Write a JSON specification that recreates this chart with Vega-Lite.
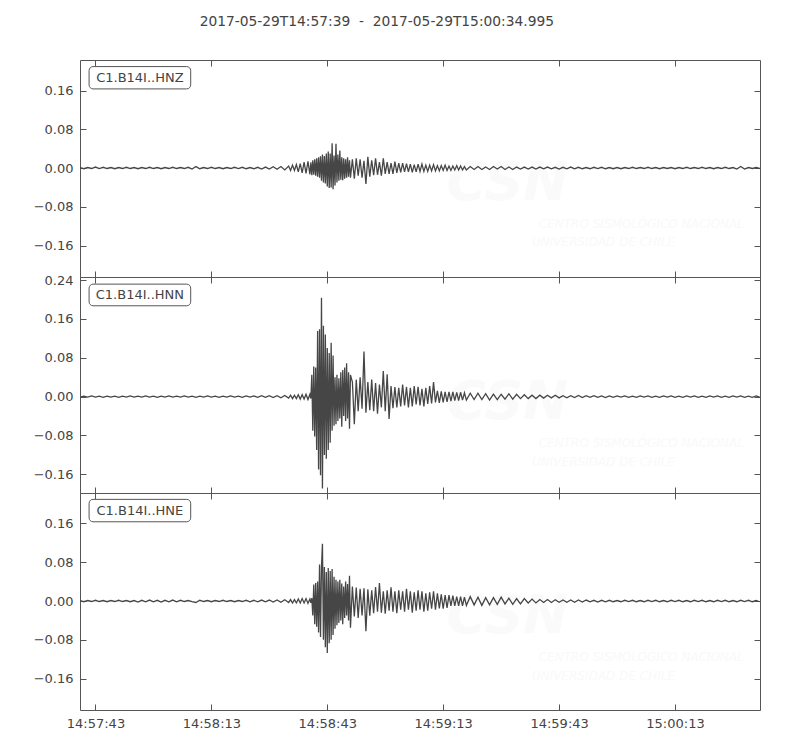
{
"$schema": "https://vega.github.io/schema/vega-lite/v6.json",
"padding": {"left": 32, "top": 15, "right": 5, "bottom": 5},
"background": "white",
"bounds": "flush",
"title": {"text": "2017-05-29T14:57:39\u00a0\u00a0-\u00a0\u00a02017-05-29T15:00:34.995", "font": "DejaVu Sans", "fontSize": 13.8, "fontWeight": "normal", "color": "#444444", "anchor": "middle", "dx": -20, "offset": 30},
"config": {
  "view": {"stroke": "#555555", "strokeWidth": 1},
  "font": "DejaVu Sans",
  "axis": {"domain": false, "grid": false, "tickColor": "#555555", "tickSize": -6, "labelColor": "#444444", "labelFont": "DejaVu Sans", "labelFontSize": 13}
},
"datasets": {
"w": [
{"t":0,"z":0.001,"n":-0.001,"e":0.001},
{"t":1,"z":-0.0015,"n":0.001,"e":-0.0015},
{"t":2,"z":0.001,"n":-0.001,"e":0.001},
{"t":3,"z":-0.001,"n":0.0015,"e":-0.001},
{"t":4,"z":0.002,"n":-0.001,"e":0.0015},
{"t":5,"z":-0.001,"n":0.001,"e":-0.001},
{"t":6,"z":0.0015,"n":-0.0015,"e":0.001},
{"t":7,"z":-0.001,"n":0.001,"e":-0.0015},
{"t":8,"z":0.001,"n":-0.001,"e":0.001},
{"t":9,"z":-0.0015,"n":0.001,"e":-0.001},
{"t":10,"z":0.001,"n":-0.0015,"e":0.0015},
{"t":11,"z":-0.001,"n":0.001,"e":-0.001},
{"t":12,"z":0.0015,"n":-0.001,"e":0.001},
{"t":13,"z":-0.001,"n":0.0015,"e":-0.0015},
{"t":14,"z":0.001,"n":-0.001,"e":0.001},
{"t":15,"z":-0.0015,"n":0.001,"e":-0.002},
{"t":16,"z":0.001,"n":-0.001,"e":0.0015},
{"t":17,"z":-0.001,"n":0.0015,"e":-0.0015},
{"t":18,"z":0.0015,"n":-0.001,"e":0.002},
{"t":19,"z":-0.001,"n":0.001,"e":-0.0015},
{"t":20,"z":0.001,"n":-0.0015,"e":0.0015},
{"t":21,"z":-0.0015,"n":0.001,"e":-0.002},
{"t":22,"z":0.001,"n":-0.001,"e":0.0015},
{"t":23,"z":-0.001,"n":0.0015,"e":-0.0015},
{"t":24,"z":0.0015,"n":-0.001,"e":0.002},
{"t":25,"z":-0.001,"n":0.001,"e":-0.0015},
{"t":26,"z":0.001,"n":-0.001,"e":0.0015},
{"t":27,"z":-0.001,"n":0.0015,"e":-0.001},
{"t":28,"z":0.0015,"n":-0.001,"e":0.001},
{"t":29,"z":-0.002,"n":0.001,"e":-0.0015},
{"t":30,"z":0.003,"n":-0.0015,"e":-0.003},
{"t":31,"z":-0.0015,"n":0.001,"e":0.0015},
{"t":32,"z":0.001,"n":-0.001,"e":-0.001},
{"t":33,"z":-0.001,"n":0.0015,"e":0.001},
{"t":34,"z":0.0015,"n":-0.001,"e":-0.0015},
{"t":35,"z":-0.001,"n":0.001,"e":0.001},
{"t":36,"z":0.001,"n":-0.0015,"e":-0.001},
{"t":37,"z":-0.0015,"n":0.001,"e":0.0015},
{"t":38,"z":0.001,"n":-0.001,"e":-0.001},
{"t":39,"z":-0.001,"n":0.0015,"e":0.001},
{"t":40,"z":0.0015,"n":-0.001,"e":-0.0015},
{"t":41,"z":-0.001,"n":0.001,"e":0.001},
{"t":42,"z":0.0015,"n":-0.0015,"e":-0.001},
{"t":43,"z":-0.0015,"n":0.0015,"e":0.0015},
{"t":44,"z":0.001,"n":-0.001,"e":-0.0015},
{"t":45,"z":-0.0015,"n":0.0015,"e":0.0015},
{"t":46,"z":0.0015,"n":-0.0015,"e":-0.0015},
{"t":47,"z":-0.002,"n":0.002,"e":0.002},
{"t":48,"z":0.002,"n":-0.0015,"e":-0.0015},
{"t":49,"z":-0.002,"n":0.002,"e":0.002},
{"t":50,"z":0.0025,"n":-0.002,"e":-0.002},
{"t":51,"z":-0.0025,"n":0.002,"e":0.002},
{"t":52,"z":0.003,"n":-0.0025,"e":-0.0025},
{"t":53,"z":-0.004,"n":0.0025,"e":0.0025},
{"t":54,"z":0.004,"n":-0.003,"e":-0.003},
{"t":54.5,"z":-0.005,"n":0.003,"e":0.003},
{"t":55,"z":0.006,"n":-0.004,"e":-0.004},
{"t":55.5,"z":-0.005,"n":0.003,"e":0.003},
{"t":56,"z":0.007,"n":-0.004,"e":-0.004},
{"t":56.5,"z":-0.008,"n":0.004,"e":0.004},
{"t":57,"z":0.009,"n":-0.005,"e":-0.004},
{"t":57.5,"z":-0.010,"n":0.004,"e":0.005},
{"t":58,"z":0.012,"n":-0.005,"e":-0.004},
{"t":58.5,"z":-0.011,"n":0.005,"e":0.005},
{"t":59,"z":0.014,"n":-0.006,"e":-0.005},
{"t":59.5,"z":-0.013,"n":0.005,"e":0.004},
{"t":59.75,"z":0.012,"n":-0.004,"e":-0.004},
{"t":60,"z":-0.015,"n":0.045,"e":0.006},
{"t":60.25,"z":0.016,"n":-0.070,"e":-0.030},
{"t":60.5,"z":-0.014,"n":0.062,"e":0.034},
{"t":60.75,"z":0.018,"n":-0.082,"e":-0.048},
{"t":61,"z":-0.016,"n":0.060,"e":0.037},
{"t":61.25,"z":0.020,"n":-0.110,"e":-0.053},
{"t":61.5,"z":-0.018,"n":0.135,"e":0.040},
{"t":61.75,"z":0.022,"n":-0.150,"e":-0.065},
{"t":62,"z":-0.020,"n":0.139,"e":0.075},
{"t":62.25,"z":0.024,"n":-0.162,"e":-0.074},
{"t":62.5,"z":-0.026,"n":0.204,"e":0.070},
{"t":62.75,"z":0.028,"n":-0.189,"e":0.118},
{"t":63,"z":-0.030,"n":0.146,"e":-0.080},
{"t":63.25,"z":0.025,"n":-0.120,"e":0.070},
{"t":63.5,"z":-0.032,"n":0.128,"e":-0.095},
{"t":63.75,"z":0.030,"n":-0.128,"e":0.060},
{"t":64,"z":-0.038,"n":0.100,"e":-0.107},
{"t":64.25,"z":0.034,"n":-0.110,"e":0.068},
{"t":64.5,"z":-0.041,"n":0.090,"e":-0.087},
{"t":64.75,"z":0.030,"n":-0.095,"e":0.062},
{"t":65,"z":-0.040,"n":0.111,"e":-0.080},
{"t":65.25,"z":0.051,"n":-0.070,"e":0.066},
{"t":65.5,"z":-0.044,"n":0.085,"e":-0.070},
{"t":65.75,"z":0.026,"n":-0.060,"e":0.050},
{"t":66,"z":-0.036,"n":0.040,"e":-0.057},
{"t":66.25,"z":0.050,"n":-0.057,"e":0.044},
{"t":66.5,"z":-0.030,"n":0.045,"e":-0.050},
{"t":66.75,"z":0.028,"n":-0.050,"e":0.040},
{"t":67,"z":-0.026,"n":0.038,"e":-0.045},
{"t":67.25,"z":0.036,"n":-0.045,"e":0.044},
{"t":67.5,"z":-0.024,"n":0.050,"e":-0.040},
{"t":67.75,"z":0.022,"n":-0.062,"e":0.036},
{"t":68,"z":-0.025,"n":0.055,"e":-0.048},
{"t":68.25,"z":0.020,"n":-0.040,"e":0.030},
{"t":68.5,"z":-0.022,"n":0.060,"e":-0.035},
{"t":68.75,"z":0.018,"n":-0.050,"e":0.040},
{"t":69,"z":-0.020,"n":0.069,"e":-0.030},
{"t":69.25,"z":0.022,"n":-0.045,"e":0.035},
{"t":69.5,"z":-0.018,"n":0.050,"e":-0.040},
{"t":69.75,"z":0.016,"n":-0.066,"e":0.052},
{"t":70,"z":-0.020,"n":0.045,"e":-0.055},
{"t":70.5,"z":0.018,"n":0.030,"e":0.030},
{"t":71,"z":-0.022,"n":-0.057,"e":-0.032},
{"t":71.5,"z":0.020,"n":0.035,"e":0.028},
{"t":72,"z":-0.016,"n":-0.030,"e":-0.035},
{"t":72.5,"z":0.018,"n":0.040,"e":0.025},
{"t":73,"z":-0.020,"n":-0.025,"e":-0.030},
{"t":73.5,"z":0.015,"n":0.093,"e":0.026},
{"t":74,"z":-0.033,"n":-0.033,"e":-0.062},
{"t":74.5,"z":0.023,"n":0.030,"e":0.024},
{"t":75,"z":-0.018,"n":-0.028,"e":-0.030},
{"t":75.5,"z":0.016,"n":0.035,"e":0.022},
{"t":76,"z":-0.015,"n":-0.030,"e":-0.025},
{"t":76.5,"z":0.020,"n":0.028,"e":0.029},
{"t":77,"z":-0.014,"n":-0.035,"e":-0.022},
{"t":77.5,"z":0.012,"n":0.025,"e":0.037},
{"t":78,"z":-0.016,"n":-0.022,"e":-0.024},
{"t":78.5,"z":0.020,"n":0.053,"e":0.020},
{"t":79,"z":-0.012,"n":-0.030,"e":-0.026},
{"t":79.5,"z":0.012,"n":0.046,"e":0.022},
{"t":80,"z":-0.012,"n":-0.046,"e":-0.020},
{"t":80.5,"z":0.010,"n":0.022,"e":0.028},
{"t":81,"z":-0.012,"n":-0.024,"e":-0.022},
{"t":81.5,"z":0.013,"n":0.020,"e":0.020},
{"t":82,"z":-0.010,"n":-0.022,"e":-0.025},
{"t":82.5,"z":0.010,"n":0.018,"e":0.022},
{"t":83,"z":-0.009,"n":-0.020,"e":-0.018},
{"t":83.5,"z":0.010,"n":0.025,"e":0.020},
{"t":84,"z":-0.008,"n":-0.018,"e":-0.022},
{"t":84.5,"z":0.009,"n":0.020,"e":0.025},
{"t":85,"z":-0.008,"n":-0.022,"e":-0.018},
{"t":85.5,"z":0.008,"n":0.018,"e":0.020},
{"t":86,"z":-0.009,"n":-0.020,"e":-0.024},
{"t":86.5,"z":0.007,"n":0.022,"e":0.018},
{"t":87,"z":-0.008,"n":-0.016,"e":-0.020},
{"t":87.5,"z":0.008,"n":0.020,"e":0.022},
{"t":88,"z":-0.007,"n":-0.018,"e":-0.018},
{"t":88.5,"z":0.008,"n":0.016,"e":0.020},
{"t":89,"z":-0.007,"n":-0.020,"e":-0.022},
{"t":89.5,"z":0.006,"n":0.018,"e":0.016},
{"t":90,"z":-0.007,"n":-0.015,"e":-0.020},
{"t":90.5,"z":0.006,"n":0.022,"e":0.018},
{"t":91,"z":-0.006,"n":-0.014,"e":-0.016},
{"t":91.5,"z":0.007,"n":0.030,"e":0.020},
{"t":92,"z":-0.006,"n":-0.012,"e":-0.018},
{"t":92.5,"z":0.005,"n":0.012,"e":0.016},
{"t":93,"z":-0.006,"n":-0.013,"e":-0.015},
{"t":93.5,"z":0.005,"n":0.011,"e":0.014},
{"t":94,"z":-0.005,"n":-0.012,"e":-0.016},
{"t":94.5,"z":0.006,"n":0.010,"e":0.012},
{"t":95,"z":-0.005,"n":-0.011,"e":-0.014},
{"t":95.5,"z":0.004,"n":0.010,"e":0.012},
{"t":96,"z":-0.005,"n":-0.009,"e":-0.010},
{"t":96.5,"z":0.004,"n":0.010,"e":0.011},
{"t":97,"z":-0.004,"n":-0.008,"e":-0.010},
{"t":97.5,"z":0.005,"n":0.009,"e":0.009},
{"t":98,"z":-0.004,"n":-0.008,"e":-0.010},
{"t":98.5,"z":0.004,"n":0.009,"e":0.009},
{"t":99,"z":-0.004,"n":-0.007,"e":-0.010},
{"t":99.5,"z":0.003,"n":0.008,"e":0.008},
{"t":100,"z":-0.004,"n":-0.007,"e":-0.009},
{"t":101,"z":0.003,"n":0.007,"e":0.009},
{"t":102,"z":-0.003,"n":-0.006,"e":-0.008},
{"t":103,"z":0.003,"n":0.007,"e":0.008},
{"t":104,"z":-0.003,"n":-0.006,"e":-0.009},
{"t":105,"z":0.002,"n":0.006,"e":0.007},
{"t":106,"z":-0.003,"n":-0.007,"e":-0.008},
{"t":107,"z":0.003,"n":0.005,"e":0.007},
{"t":108,"z":-0.002,"n":-0.006,"e":-0.007},
{"t":109,"z":0.003,"n":0.005,"e":0.008},
{"t":110,"z":-0.003,"n":-0.005,"e":-0.006},
{"t":111,"z":0.002,"n":0.006,"e":0.006},
{"t":112,"z":-0.003,"n":-0.005,"e":-0.007},
{"t":113,"z":0.002,"n":0.005,"e":0.005},
{"t":114,"z":-0.002,"n":-0.004,"e":-0.006},
{"t":115,"z":0.002,"n":0.004,"e":0.005},
{"t":116,"z":-0.002,"n":-0.004,"e":-0.004},
{"t":117,"z":0.002,"n":0.003,"e":0.004},
{"t":118,"z":-0.002,"n":-0.004,"e":-0.004},
{"t":119,"z":0.002,"n":0.003,"e":0.003},
{"t":120,"z":-0.0015,"n":-0.003,"e":-0.003},
{"t":121,"z":0.002,"n":0.003,"e":0.003},
{"t":122,"z":-0.0015,"n":-0.0025,"e":-0.003},
{"t":123,"z":0.0015,"n":0.003,"e":0.0025},
{"t":124,"z":-0.002,"n":-0.0025,"e":-0.0025},
{"t":125,"z":0.0015,"n":0.002,"e":0.002},
{"t":126,"z":-0.0015,"n":-0.0025,"e":-0.0025},
{"t":127,"z":0.002,"n":0.002,"e":0.002},
{"t":128,"z":-0.0015,"n":-0.002,"e":-0.0025},
{"t":129,"z":0.0015,"n":0.0025,"e":0.002},
{"t":130,"z":-0.0015,"n":-0.002,"e":-0.002},
{"t":131,"z":0.001,"n":0.002,"e":0.002},
{"t":132,"z":-0.0015,"n":-0.0015,"e":-0.0015},
{"t":133,"z":0.0015,"n":0.002,"e":0.0015},
{"t":134,"z":-0.001,"n":-0.0015,"e":-0.002},
{"t":135,"z":0.0015,"n":0.0015,"e":0.0015},
{"t":136,"z":-0.0015,"n":-0.002,"e":-0.0015},
{"t":137,"z":0.001,"n":0.0015,"e":0.0015},
{"t":138,"z":-0.0015,"n":-0.0015,"e":-0.0015},
{"t":139,"z":0.001,"n":0.0015,"e":0.001},
{"t":140,"z":-0.0015,"n":-0.001,"e":-0.0015},
{"t":141,"z":0.001,"n":0.0015,"e":0.0015},
{"t":142,"z":-0.001,"n":-0.0015,"e":-0.001},
{"t":143,"z":0.0015,"n":0.001,"e":0.0015},
{"t":144,"z":-0.001,"n":-0.0015,"e":-0.0015},
{"t":145,"z":0.001,"n":0.0015,"e":0.001},
{"t":146,"z":-0.001,"n":-0.001,"e":-0.0015},
{"t":147,"z":0.0015,"n":0.0015,"e":0.0015},
{"t":148,"z":-0.001,"n":-0.0015,"e":-0.001},
{"t":149,"z":0.001,"n":0.001,"e":0.0015},
{"t":150,"z":-0.0015,"n":-0.0015,"e":-0.0015},
{"t":151,"z":0.001,"n":0.0015,"e":0.001},
{"t":152,"z":-0.001,"n":-0.001,"e":-0.0015},
{"t":153,"z":0.001,"n":0.0015,"e":0.0015},
{"t":154,"z":-0.0015,"n":-0.0015,"e":-0.001},
{"t":155,"z":0.001,"n":0.001,"e":0.0015},
{"t":156,"z":-0.001,"n":-0.0015,"e":-0.0015},
{"t":157,"z":0.0015,"n":0.0015,"e":0.001},
{"t":158,"z":-0.001,"n":-0.001,"e":-0.0015},
{"t":159,"z":0.001,"n":0.0015,"e":0.0015},
{"t":160,"z":-0.001,"n":-0.0015,"e":-0.001},
{"t":161,"z":0.0015,"n":0.001,"e":0.0015},
{"t":162,"z":-0.001,"n":-0.0015,"e":-0.0015},
{"t":163,"z":0.001,"n":0.0015,"e":0.001},
{"t":164,"z":-0.0015,"n":-0.001,"e":-0.0015},
{"t":165,"z":0.001,"n":0.0015,"e":0.0015},
{"t":166,"z":-0.001,"n":-0.0015,"e":-0.001},
{"t":167,"z":0.0015,"n":0.001,"e":0.0015},
{"t":168,"z":-0.001,"n":-0.0015,"e":-0.0015},
{"t":169,"z":0.001,"n":0.0015,"e":0.001},
{"t":170,"z":-0.002,"n":-0.001,"e":-0.0015},
{"t":171,"z":0.003,"n":0.0015,"e":0.0015},
{"t":172,"z":-0.002,"n":-0.0015,"e":-0.001},
{"t":173,"z":0.001,"n":0.001,"e":0.0015},
{"t":174,"z":-0.001,"n":-0.0015,"e":-0.0015},
{"t":175,"z":0.001,"n":0.0015,"e":0.001},
{"t":175.9,"z":-0.001,"n":-0.001,"e":-0.0015}
]
},
"spacing": 0,
"vconcat": [
{
  "width": 680, "height": 217,
  "layer": [
    {"data": {"values": [{"txt": "CSN"}]}, "mark": {"type": "text", "font": "DejaVu Sans", "fontSize": 54, "fontWeight": "bold", "fontStyle": "italic", "color": "#fafafa", "align": "center", "baseline": "middle"},
     "encoding": {"x": {"datum": 110.6, "type": "quantitative", "axis": null}, "y": {"datum": -0.032, "type": "quantitative", "axis": null}, "text": {"field": "txt"}}},
    {"data": {"values": [{"txt": "CENTRO SISMOLÓGICO NACIONAL"}]}, "mark": {"type": "text", "font": "DejaVu Sans", "fontSize": 12, "fontStyle": "italic", "color": "#f9f9f9", "align": "center", "baseline": "middle"},
     "encoding": {"x": {"datum": 145.3, "type": "quantitative", "axis": null}, "y": {"datum": -0.1147, "type": "quantitative", "axis": null}, "text": {"field": "txt"}}},
    {"data": {"values": [{"txt": "UNIVERSIDAD DE CHILE"}]}, "mark": {"type": "text", "font": "DejaVu Sans", "fontSize": 12, "fontStyle": "italic", "color": "#f9f9f9", "align": "center", "baseline": "middle"},
     "encoding": {"x": {"datum": 135.5, "type": "quantitative", "axis": null}, "y": {"datum": -0.153, "type": "quantitative", "axis": null}, "text": {"field": "txt"}}},
    {"data": {"name": "w"}, "mark": {"type": "line", "color": "#464646", "strokeWidth": 1.3, "clip": true},
     "encoding": {
       "x": {"field": "t", "type": "quantitative", "scale": {"domain": [0, 175.995], "nice": false, "zero": false}, "axis": {"orient": "bottom", "values": [4, 34, 64, 94, 124, 154], "labels": false, "title": null}},
       "y": {"field": "z", "type": "quantitative", "scale": {"domain": [-0.225, 0.223], "nice": false, "zero": false}, "axis": {"orient": "left", "values": [-0.16, -0.08, 0, 0.08, 0.16], "format": ".2f", "labelPadding": 13, "title": null}}}},
    {"data": {"name": "w"}, "mark": {"type": "line", "opacity": 0},
     "encoding": {
       "x": {"field": "t", "type": "quantitative", "axis": {"orient": "top", "values": [4, 34, 64, 94, 124, 154], "labels": false, "title": null}},
       "y": {"field": "z", "type": "quantitative", "axis": {"orient": "right", "values": [-0.16, -0.08, 0, 0.08, 0.16], "labels": false, "title": null}}}},
    {"data": {"values": [{"label": "C1.B14I..HNZ"}]}, "mark": {"type": "rect", "fill": "white", "stroke": "#555555", "strokeWidth": 1, "cornerRadius": 4},
     "encoding": {"x": {"datum": 2.35, "type": "quantitative", "axis": null}, "x2": {"datum": 28.65}, "y": {"datum": 0.2094, "type": "quantitative", "axis": null}, "y2": {"datum": 0.1633}}},
    {"data": {"values": [{"label": "C1.B14I..HNZ"}]}, "mark": {"type": "text", "font": "DejaVu Sans", "fontSize": 13, "color": "#444444", "align": "center", "baseline": "middle"},
     "encoding": {"x": {"datum": 15.5, "type": "quantitative", "axis": null}, "y": {"datum": 0.1863, "type": "quantitative", "axis": null}, "text": {"field": "label"}}}
  ],
  "resolve": {"axis": {"x": "independent", "y": "independent"}}
},
{
  "width": 680, "height": 216,
  "layer": [
    {"data": {"values": [{"txt": "CSN"}]}, "mark": {"type": "text", "font": "DejaVu Sans", "fontSize": 54, "fontWeight": "bold", "fontStyle": "italic", "color": "#fafafa", "align": "center", "baseline": "middle"},
     "encoding": {"x": {"datum": 110.6, "type": "quantitative", "axis": null}, "y": {"datum": -0.014, "type": "quantitative", "axis": null}, "text": {"field": "txt"}}},
    {"data": {"values": [{"txt": "CENTRO SISMOLÓGICO NACIONAL"}]}, "mark": {"type": "text", "font": "DejaVu Sans", "fontSize": 12, "fontStyle": "italic", "color": "#f9f9f9", "align": "center", "baseline": "middle"},
     "encoding": {"x": {"datum": 145.3, "type": "quantitative", "axis": null}, "y": {"datum": -0.0963, "type": "quantitative", "axis": null}, "text": {"field": "txt"}}},
    {"data": {"values": [{"txt": "UNIVERSIDAD DE CHILE"}]}, "mark": {"type": "text", "font": "DejaVu Sans", "fontSize": 12, "fontStyle": "italic", "color": "#f9f9f9", "align": "center", "baseline": "middle"},
     "encoding": {"x": {"datum": 135.5, "type": "quantitative", "axis": null}, "y": {"datum": -0.134, "type": "quantitative", "axis": null}, "text": {"field": "txt"}}},
    {"data": {"name": "w"}, "mark": {"type": "line", "color": "#464646", "strokeWidth": 1.3, "clip": true},
     "encoding": {
       "x": {"field": "t", "type": "quantitative", "scale": {"domain": [0, 175.995], "nice": false, "zero": false}, "axis": {"orient": "bottom", "values": [4, 34, 64, 94, 124, 154], "labels": false, "title": null}},
       "y": {"field": "n", "type": "quantitative", "scale": {"domain": [-0.1985, 0.2465], "nice": false, "zero": false}, "axis": {"orient": "left", "values": [-0.16, -0.08, 0, 0.08, 0.16, 0.24], "format": ".2f", "labelPadding": 13, "title": null}}}},
    {"data": {"name": "w"}, "mark": {"type": "line", "opacity": 0},
     "encoding": {
       "x": {"field": "t", "type": "quantitative", "axis": {"orient": "top", "values": [4, 34, 64, 94, 124, 154], "labels": false, "title": null}},
       "y": {"field": "n", "type": "quantitative", "axis": {"orient": "right", "values": [-0.16, -0.08, 0, 0.08, 0.16, 0.24], "labels": false, "title": null}}}},
    {"data": {"values": [{"label": "C1.B14I..HNN"}]}, "mark": {"type": "rect", "fill": "white", "stroke": "#555555", "strokeWidth": 1, "cornerRadius": 4},
     "encoding": {"x": {"datum": 2.35, "type": "quantitative", "axis": null}, "x2": {"datum": 28.65}, "y": {"datum": 0.2318, "type": "quantitative", "axis": null}, "y2": {"datum": 0.1872}}},
    {"data": {"values": [{"label": "C1.B14I..HNN"}]}, "mark": {"type": "text", "font": "DejaVu Sans", "fontSize": 13, "color": "#444444", "align": "center", "baseline": "middle"},
     "encoding": {"x": {"datum": 15.5, "type": "quantitative", "axis": null}, "y": {"datum": 0.2095, "type": "quantitative", "axis": null}, "text": {"field": "label"}}}
  ],
  "resolve": {"axis": {"x": "independent", "y": "independent"}}
},
{
  "width": 680, "height": 217,
  "layer": [
    {"data": {"values": [{"txt": "CSN"}]}, "mark": {"type": "text", "font": "DejaVu Sans", "fontSize": 54, "fontWeight": "bold", "fontStyle": "italic", "color": "#fafafa", "align": "center", "baseline": "middle"},
     "encoding": {"x": {"datum": 110.6, "type": "quantitative", "axis": null}, "y": {"datum": -0.0328, "type": "quantitative", "axis": null}, "text": {"field": "txt"}}},
    {"data": {"values": [{"txt": "CENTRO SISMOLÓGICO NACIONAL"}]}, "mark": {"type": "text", "font": "DejaVu Sans", "fontSize": 12, "fontStyle": "italic", "color": "#f9f9f9", "align": "center", "baseline": "middle"},
     "encoding": {"x": {"datum": 145.3, "type": "quantitative", "axis": null}, "y": {"datum": -0.1157, "type": "quantitative", "axis": null}, "text": {"field": "txt"}}},
    {"data": {"values": [{"txt": "UNIVERSIDAD DE CHILE"}]}, "mark": {"type": "text", "font": "DejaVu Sans", "fontSize": 12, "fontStyle": "italic", "color": "#f9f9f9", "align": "center", "baseline": "middle"},
     "encoding": {"x": {"datum": 135.5, "type": "quantitative", "axis": null}, "y": {"datum": -0.154, "type": "quantitative", "axis": null}, "text": {"field": "txt"}}},
    {"data": {"name": "w"}, "mark": {"type": "line", "color": "#464646", "strokeWidth": 1.3, "clip": true},
     "encoding": {
       "x": {"field": "t", "type": "quantitative", "scale": {"domain": [0, 175.995], "nice": false, "zero": false}, "axis": {"orient": "bottom", "values": [4, 34, 64, 94, 124, 154], "labelExpr": "timeFormat(datetime(2017, 4, 29, 14, 57, 39 + datum.value), '%H:%M:%S')", "labelPadding": 13, "title": null}},
       "y": {"field": "e", "type": "quantitative", "scale": {"domain": [-0.2245, 0.2225], "nice": false, "zero": false}, "axis": {"orient": "left", "values": [-0.16, -0.08, 0, 0.08, 0.16], "format": ".2f", "labelPadding": 13, "title": null}}}},
    {"data": {"name": "w"}, "mark": {"type": "line", "opacity": 0},
     "encoding": {
       "x": {"field": "t", "type": "quantitative", "axis": {"orient": "top", "values": [4, 34, 64, 94, 124, 154], "labels": false, "title": null}},
       "y": {"field": "e", "type": "quantitative", "axis": {"orient": "right", "values": [-0.16, -0.08, 0, 0.08, 0.16], "labels": false, "title": null}}}},
    {"data": {"values": [{"label": "C1.B14I..HNE"}]}, "mark": {"type": "rect", "fill": "white", "stroke": "#555555", "strokeWidth": 1, "cornerRadius": 4},
     "encoding": {"x": {"datum": 2.35, "type": "quantitative", "axis": null}, "x2": {"datum": 28.65}, "y": {"datum": 0.2094, "type": "quantitative", "axis": null}, "y2": {"datum": 0.1632}}},
    {"data": {"values": [{"label": "C1.B14I..HNE"}]}, "mark": {"type": "text", "font": "DejaVu Sans", "fontSize": 13, "color": "#444444", "align": "center", "baseline": "middle"},
     "encoding": {"x": {"datum": 15.5, "type": "quantitative", "axis": null}, "y": {"datum": 0.1863, "type": "quantitative", "axis": null}, "text": {"field": "label"}}}
  ],
  "resolve": {"axis": {"x": "independent", "y": "independent"}}
}
]
}
